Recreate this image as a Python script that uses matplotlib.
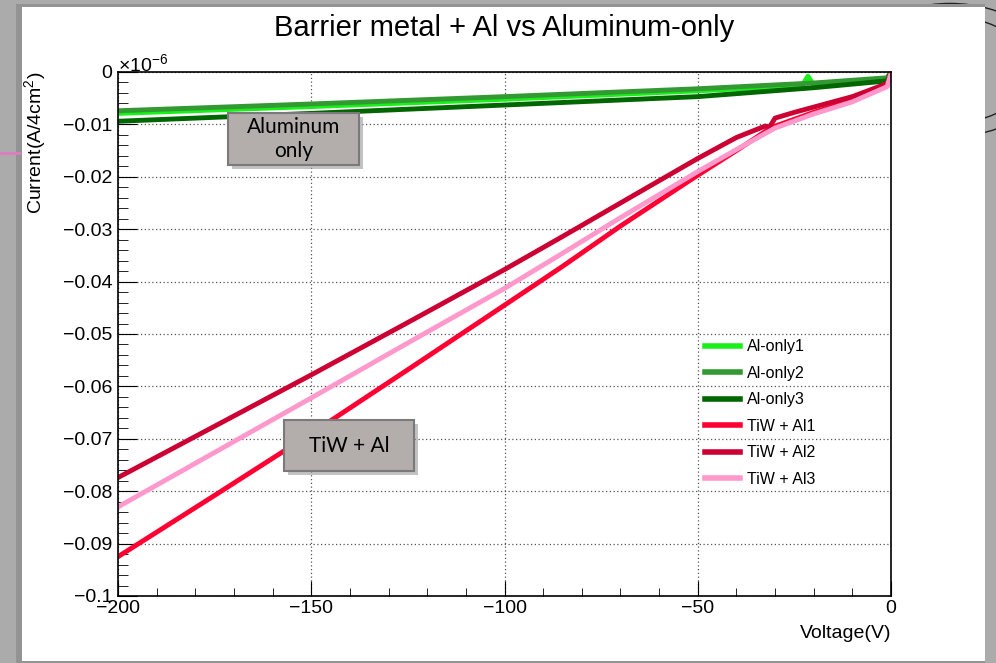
import numpy as np
import matplotlib
matplotlib.use('Agg')
import matplotlib.pyplot as plt
from matplotlib.patches import Rectangle, Circle
from matplotlib.lines import Line2D

plt.rcParams['font.family'] = ['Liberation Sans', 'DejaVu Sans']
plt.rcParams['mathtext.fontset'] = 'custom'
plt.rcParams['mathtext.rm'] = 'Liberation Sans'
plt.rcParams['mathtext.it'] = 'Liberation Sans:italic'

W, H = 996, 663

# values, current in units of 1e-6 A/4cm^2
v_al1 = [-200, -150, -100, -50, -23, -21.5, -20, -1, 0]
i_al1 = [-0.0079, -0.0066, -0.0052, -0.0036, -0.0026, -0.0008, -0.0025, -0.0013, 0.0001]

v_al2 = [-200, -150, -100, -50, -20, -1, 0]
i_al2 = [-0.0074, -0.0061, -0.0047, -0.0032, -0.0021, -0.0011, 0.0000]

v_al3 = [-200, -150, -100, -50, -20, -1, 0]
i_al3 = [-0.0094, -0.0079, -0.0063, -0.0047, -0.0030, -0.0017, -0.0001]

v_tiw1 = [-200, -175, -150, -125, -100, -85, -70, -50, -40, -31, -20, -10, -1, 0]
i_tiw1 = [-0.0925, -0.0808, -0.0690, -0.0568, -0.0445, -0.0371, -0.0294, -0.0197, -0.0150,
          -0.0106, -0.0077, -0.0054, -0.0026, -0.0002]

v_tiw2 = [-200, -175, -150, -125, -100, -85, -70, -50, -40, -32.5, -31.5, -30, -25, -20, -10, -1, 0]
i_tiw2 = [-0.0774, -0.0676, -0.0578, -0.0478, -0.0377, -0.0314, -0.0250, -0.0165, -0.0125,
          -0.0103, -0.0106, -0.0088, -0.0077, -0.0067, -0.0047, -0.0022, -0.0002]

v_tiw3 = [-200, -175, -150, -125, -100, -85, -70, -50, -40, -30, -20, -10, -1, 0]
i_tiw3 = [-0.0830, -0.0726, -0.0622, -0.0517, -0.0413, -0.0346, -0.0278, -0.0190, -0.0148,
          -0.0107, -0.0080, -0.0057, -0.0028, -0.0002]

labels = ['Al-only1', 'Al-only2', 'Al-only3', 'TiW + Al1', 'TiW + Al2', 'TiW + Al3']
colors = ['#19f019', '#339933', '#006600', '#ff0033', '#cc0033', '#ff99cc']
series = [(v_al1, i_al1), (v_al2, i_al2), (v_al3, i_al3),
          (v_tiw1, i_tiw1), (v_tiw2, i_tiw2), (v_tiw3, i_tiw3)]

xticks = [-200, -150, -100, -50, 0]
xticklabels = ['\u2212200', '\u2212150', '\u2212100', '\u221250', '0']
yticks = [0, -0.01, -0.02, -0.03, -0.04, -0.05, -0.06, -0.07, -0.08, -0.09, -0.1]
yticklabels = ['0'] + ['\u2212' + s for s in ['0.01', '0.02', '0.03', '0.04', '0.05',
                                              '0.06', '0.07', '0.08', '0.09', '0.1']]


def fx(x):
    return x / W


def fy(y):
    return 1 - y / H


fig = plt.figure(figsize=(W / 100, H / 100), dpi=100, facecolor='#ababab')

# screenshot background: stamp, white canvas and its shadow
for r in (100, 80):
    fig.patches.append(Circle((fx(950), fy(70)), r / W, transform=fig.transFigure,
                              fill=False, ec='#222222', lw=1.0, zorder=-5))
fig.patches.append(Rectangle((fx(16), fy(663)), (985 - 16) / W, (663 - 4) / H,
                             transform=fig.transFigure, fc='#939393', ec='none', zorder=-4))
fig.patches.append(Rectangle((fx(22), fy(661)), (985 - 22) / W, (661 - 7) / H,
                             transform=fig.transFigure, fc='white', ec='none', zorder=-3))
fig.lines.append(Line2D([0, fx(20)], [fy(153), fy(153)], transform=fig.transFigure,
                        color='#e07ac0', lw=2, zorder=-3))

ax = fig.add_axes([fx(118), fy(596), (891 - 118) / W, (596 - 72) / H])
ax.set_facecolor('white')

for (v, i), lab, c in zip(series, labels, colors):
    ax.plot(v, i, color=c, lw=3.5, label=lab, solid_joinstyle='round')

ax.set_xlim(-200, 0)
ax.set_ylim(-0.1, 0)
ax.set_xticks(xticks)
ax.set_xticklabels(xticklabels)
ax.set_xticks(np.arange(-200, 1, 10), minor=True)
ax.set_yticks(yticks)
ax.set_yticklabels(yticklabels)
ax.set_yticks(np.linspace(-0.1, 0, 51), minor=True)

ax.grid(True, which='major', color='#555555', lw=0.9, linestyle=(0, (1, 2)))
ax.tick_params(axis='both', which='both', direction='in', labelsize=14, colors='black')
ax.tick_params(axis='x', which='major', length=11, pad=3)
ax.tick_params(axis='x', which='minor', length=6)
ax.tick_params(axis='y', which='major', length=14, pad=4)
ax.tick_params(axis='y', which='minor', length=7)
for sp in ax.spines.values():
    sp.set_color('black')
    sp.set_linewidth(1.2)

leg = ax.legend(loc='center left', bbox_to_anchor=((705 - 118) / 773, (596 - 413) / 524),
                frameon=False, fontsize=11.5, handlelength=2.2, handletextpad=0.4,
                labelspacing=0.72, borderpad=0, borderaxespad=0)
for ln in leg.get_lines():
    ln.set_linewidth(4)

fig.text(fx(504), fy(28), 'Barrier metal + Al vs Aluminum-only', ha='center', va='center',
         fontsize=21)
fig.text(fx(35), fy(72), 'Current(A/4cm$^2$)', rotation=90, ha='center', va='top', fontsize=14)
fig.text(fx(891), fy(633), 'Voltage(V)', ha='right', va='center', fontsize=14)
fig.text(fx(118), fy(71), '\u00d710$^{\u22126}$', ha='left', va='baseline', fontsize=14)

# annotation boxes
boxes = [((228, 113, 359, 165), 'Aluminum\nonly'), ((284, 420, 414, 471), 'TiW + Al')]
for (x0, y0, x1, y1), txt in boxes:
    fig.patches.append(Rectangle((fx(x0 + 4), fy(y1 + 4)), (x1 - x0) / W, (y1 - y0) / H,
                                 transform=fig.transFigure, fc='#9a9a9a', ec='none',
                                 alpha=0.6, zorder=5))
    fig.patches.append(Rectangle((fx(x0), fy(y1)), (x1 - x0) / W, (y1 - y0) / H,
                                 transform=fig.transFigure, fc='#b3aeac', ec='#7a7a7a',
                                 lw=1.5, zorder=6))
    fig.text(fx((x0 + x1) / 2), fy((y0 + y1) / 2), txt, ha='center', va='center',
             fontsize=15, family=['Lato', 'DejaVu Sans'], linespacing=1.25, zorder=7)

fig.savefig('out.png', dpi=100, facecolor=fig.get_facecolor())
